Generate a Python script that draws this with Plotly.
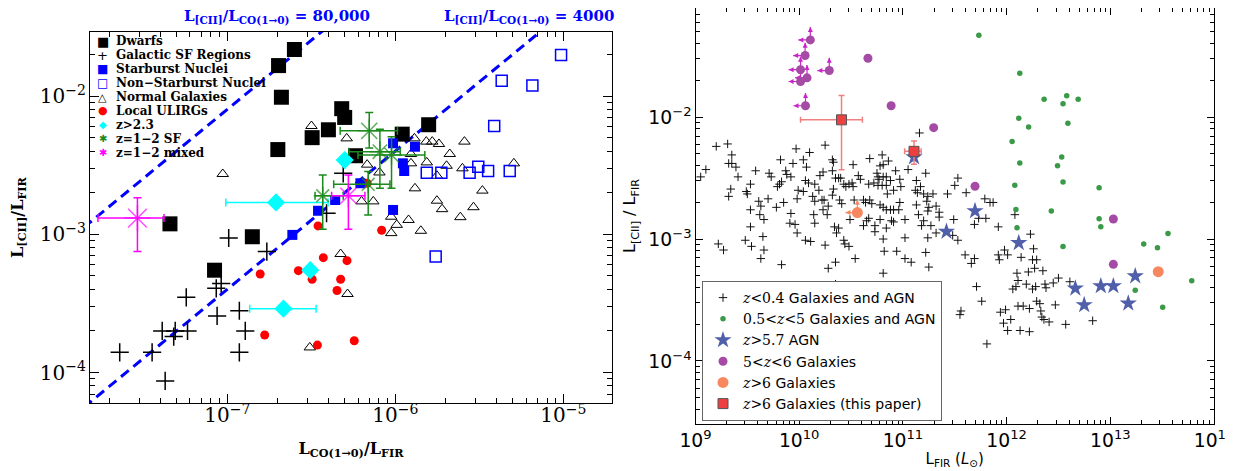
import numpy as np
import plotly.graph_objects as go

# ---------------- left panel: L[CII]/LFIR vs LCO/LFIR ----------------
dwarf_x = [2.51e-7, 2.02e-7, 2.1e-7, 4.8e-7, 5.0e-7, 4.0e-7, 3.2e-7, 2.0e-7, 1.58e-6, 1.1e-6, 5.8e-7, 4.56e-8, 1.41e-7, 8.4e-8]
dwarf_y = [0.0217, 0.0166, 9.8e-3, 8.1e-3, 7.0e-3, 5.7e-3, 5.0e-3, 4.1e-3, 6.2e-3, 5.3e-3, 3.7e-3, 1.19e-3, 9.6e-4, 5.5e-4]

galsf_x = [1.02e-7, 1.72e-7, 9.2e-8, 8.6e-8, 5.7e-8, 8.7e-8, 1.18e-7, 4.1e-8, 4.9e-8, 5.8e-8, 4.8e-8,
           1.28e-7, 2.29e-8, 3.57e-8, 1.18e-7, 4.27e-8, 4.9e-7, 3.9e-7]
galsf_y = [9.4e-4, 7.5e-4, 4.4e-4, 4.07e-4, 3.5e-4, 2.57e-4, 2.8e-4, 2.0e-4, 2.0e-4, 2.0e-4, 1.82e-4,
           2.0e-4, 1.4e-4, 1.4e-4, 1.4e-4, 8.7e-5, 2.76e-3, 1.42e-3]

sbn_x = [2.44e-7, 3.47e-7, 4.39e-7, 6.2e-7, 9.7e-7, 9.7e-7, 1.11e-6, 1.13e-6, 1.31e-6]
sbn_y = [9.9e-4, 1.48e-3, 1.77e-3, 2.34e-3, 1.5e-3, 4.55e-3, 3.26e-3, 2.87e-3, 4.3e-3]

nsbn_x = [9.7e-6, 4.3e-6, 6.55e-6, 3.88e-6, 1.54e-6, 1.88e-6, 2.77e-6, 3.12e-6, 3.57e-6, 4.8e-6, 1.74e-6]
nsbn_y = [0.0198, 0.0129, 0.0119, 6.07e-3, 2.79e-3, 2.79e-3, 2.79e-3, 3.08e-3, 2.87e-3, 2.87e-3, 6.9e-4]

norm_x = [9.4e-8, 3.17e-7, 5.14e-7, 1.30e-6, 1.53e-6, 1.66e-6, 1.82e-6, 2.58e-6, 2.11e-6, 1.54e-6, 1.24e-6,
          1.24e-6, 2.02e-6, 2.51e-6, 1.77e-6, 5.08e-6, 1.31e-6, 3.3e-6, 1.77e-6, 1.9e-6, 2.92e-6, 2.44e-6,
          1.2e-6, 1.02e-6, 9.46e-7, 1.42e-6, 9.46e-7, 7.4e-7, 6.3e-7, 8.05e-7, 6.8e-7, 4.73e-7, 5.2e-7, 3.1e-7]
norm_y = [2.73e-3, 6.07e-3, 4.94e-3, 4.94e-3, 4.68e-3, 4.68e-3, 4.5e-3, 4.68e-3, 3.81e-3, 3.31e-3, 3.81e-3,
          3.26e-3, 3.13e-3, 3.0e-3, 2.65e-3, 3.26e-3, 2.15e-3, 2.07e-3, 1.75e-3, 1.52e-3, 1.57e-3, 1.33e-3,
          1.27e-3, 1.17e-3, 1.34e-3, 1.06e-3, 1.02e-3, 1.73e-3, 1.73e-3, 2.8e-3, 3.19e-3, 7.2e-4, 3.7e-4, 1.52e-4]

ulirg_x = [3.47e-7, 8.3e-7, 6.8e-7, 1.57e-7, 2.65e-7, 3.2e-7, 3.73e-7, 5.16e-7, 4.73e-7, 4.5e-7, 1.67e-7, 3.44e-7, 5.7e-7]
ulirg_y = [1.15e-3, 1.07e-3, 2.34e-3, 5.16e-4, 5.46e-4, 4.73e-4, 6.78e-4, 6.45e-4, 4.73e-4, 3.92e-4, 1.87e-4, 1.58e-4, 1.7e-4]

hiz_x = [5.0e-7, 1.95e-7, 3.12e-7, 2.16e-7]
hiz_y = [3.44e-3, 1.7e-3, 5.5e-4, 2.9e-4]
hiz_xlo = [None, 9.8e-8, None, 1.36e-7]
hiz_xhi = [None, 3.98e-7, None, 3.38e-7]

sf_x = [7.0e-7, 8.1e-7, 9.5e-7, 6.9e-7, 3.7e-7]
sf_y = [5.6e-3, 3.96e-3, 3.75e-3, 2.3e-3, 1.9e-3]
sf_xlo = [4.7e-7, 5.3e-7, 6.0e-7, 4.3e-7, 3.33e-7]
sf_xhi = [1.03e-6, 1.07e-6, 1.5e-6, 9.3e-7, 4.9e-7]
sf_ylo = [4.2e-3, 2.15e-3, 2.15e-3, 1.38e-3, 1.09e-3]
sf_yhi = [7.6e-3, 5.74e-3, 5.08e-3, 2.84e-3, 2.69e-3]

mix_x = [2.92e-8, 5.26e-7]
mix_y = [1.31e-3, 1.9e-3]
mix_xlo = [1.7e-8, 4.18e-7]
mix_xhi = [4.2e-8, 6.6e-7]
mix_ylo = [7.5e-4, 1.09e-3]
mix_yhi = [1.84e-3, 2.69e-3]

ratio_lines = [80000, 4000]
ratio_labels = ["80,000", "4000"]

# ---------------- right panel: L[CII]/LFIR vs LFIR (log10 values) ----------------
z04_log_lfir = [
    9.20, 9.31, 9.35, 9.32, 9.35, 9.39, 9.10, 9.05, 9.41, 9.58, 9.53, 9.34, 9.32, 9.49, 9.50, 9.61,
    9.63, 9.53, 9.62, 9.66, 9.53, 9.70, 9.73, 9.71, 9.79, 9.81, 9.83, 9.78, 9.85, 9.87, 9.88, 9.92,
    9.82, 9.94, 9.97, 10.10, 10.04, 10.07, 10.06, 10.09, 9.99, 10.04, 9.98, 9.92, 9.91, 9.96, 10.14,
    10.15, 10.25, 10.23, 10.20, 10.15, 10.19, 10.13, 10.15, 10.22, 10.24, 10.23, 10.27, 10.28, 10.32,
    10.33, 10.32, 10.35, 10.38, 10.40, 10.33, 10.32, 10.39, 10.41, 10.43, 10.48, 10.51, 10.45, 10.52,
    10.57, 10.59, 10.52, 10.53, 10.34, 10.38, 10.49, 10.62, 10.64, 10.68, 10.68, 10.67, 10.72, 10.80,
    10.78, 10.81, 10.86, 10.93, 10.75, 10.76, 10.77, 10.81, 10.84, 10.88, 10.97, 10.76, 10.80, 10.84,
    10.91, 10.98, 10.85, 10.78, 10.81, 10.84, 10.88, 10.91, 10.96, 10.97, 10.70, 10.65, 10.67, 10.62,
    10.73, 10.78, 10.84, 10.89, 10.91, 11.02,
    11.16, 11.05, 11.22, 11.13, 11.17, 11.12, 11.14, 11.20, 11.24, 11.29, 11.23, 11.13, 11.25, 11.24,
    11.32, 11.35, 11.35, 11.15, 11.20, 11.18, 11.27, 11.43, 11.50, 11.53, 11.61, 11.49, 11.79, 11.84,
    11.87, 11.73, 11.80, 11.69, 11.92, 12.08,
    9.22, 9.27, 9.48, 9.54, 9.65, 9.66, 9.63, 9.83, 9.98, 10.06, 10.11, 10.25, 10.36, 10.43, 10.44,
    10.48, 10.28, 10.35, 10.54, 10.73, 10.81, 10.82, 10.94, 11.02, 11.02, 10.81, 10.35,
    11.24, 11.32, 11.48, 11.53, 11.22, 11.08, 11.25, 11.60, 11.69, 11.66, 11.71, 11.76, 11.56, 11.55,
    11.81, 12.23, 11.92, 11.93, 11.98, 12.01, 12.14, 12.26, 12.25, 12.29, 12.27, 12.35, 12.10, 12.21,
    12.11, 12.19, 12.09, 12.06, 12.28, 12.25, 12.37, 12.38, 12.45, 12.50, 12.61, 12.29, 12.32, 12.47,
    12.11, 12.16, 12.22, 11.94, 11.99, 12.33, 12.34, 12.36, 12.41, 11.97, 12.04, 12.01, 12.13, 12.22,
    12.57, 12.83,
]
z04_log_ratio = [
    -2.24, -2.22, -2.31, -2.38, -2.38, -2.41, -2.43, -2.49, -2.49, -2.44, -2.55, -2.59, -2.65, -2.61,
    -2.63, -2.69, -2.73, -2.76, -2.80, -2.84, -2.90, -2.67, -2.49, -2.46, -2.57, -2.55, -2.53, -2.74,
    -2.70, -2.44, -2.47, -2.49, -2.35, -2.38, -2.26, -2.29, -2.35, -2.41, -2.52, -2.54, -2.60, -2.61,
    -2.67, -2.79, -2.87, -2.88, -2.80, -2.87, -2.23, -2.45, -2.48, -2.55, -2.60, -2.65, -2.69, -2.68,
    -2.68, -2.76, -2.80, -2.73, -2.35, -2.37, -2.44, -2.50, -2.50, -2.50, -2.59, -2.64, -2.68, -2.71,
    -2.55, -2.55, -2.54, -2.57, -2.39, -2.48, -2.51, -2.57, -2.68, -2.90, -2.91, -2.84, -2.68, -2.70,
    -2.68, -2.34, -2.55, -2.54, -2.31, -2.40, -2.39, -2.36, -2.44, -2.46, -2.49, -2.51, -2.49, -2.49,
    -2.52, -2.51, -2.56, -2.56, -2.56, -2.60, -2.57, -2.63, -2.72, -2.74, -2.76, -2.76, -2.76, -2.76,
    -2.70, -2.71, -2.85, -2.83, -2.89, -2.89, -2.84, -2.91, -2.85, -2.86, -2.84,
    -2.13, -2.43, -2.46, -2.52, -2.57, -2.60, -2.62, -2.63, -2.65, -2.63, -2.69, -2.72, -2.74, -2.77,
    -2.73, -2.78, -2.82, -2.80, -2.85, -2.89, -2.89, -2.63, -2.56, -2.50, -2.62, -2.84, -2.67, -2.70,
    -2.70, -2.83, -2.83, -2.88, -2.90, -2.80,
    -3.04, -3.09, -3.01, -3.06, -2.98, -3.09, -3.16, -3.21, -2.95, -3.01, -3.02, -3.05, -2.95, -3.01,
    -3.04, -3.06, -3.24, -3.19, -3.16, -2.94, -3.00, -3.10, -3.10, -2.99, -3.16, -3.28, -3.37,
    -2.99, -2.95, -2.97, -3.01, -3.11, -3.19, -3.23, -3.13, -3.16, -3.20, -3.39, -3.51, -3.59, -3.62,
    -3.86, -2.96, -3.13, -3.17, -3.09, -3.13, -3.15, -3.08, -3.17, -3.17, -3.24, -3.26, -3.28, -3.27,
    -3.34, -3.37, -3.39, -3.41, -3.39, -3.41, -3.37, -3.40, -3.36, -3.32, -3.35, -3.51, -3.53, -3.54,
    -3.55, -3.55, -3.57, -3.60, -3.58, -3.59, -3.64, -3.66, -3.68, -3.69, -3.66, -3.75, -3.75, -3.76,
    -3.70, -3.67,
]

mid_x = [5.4e11, 1.34e12, 2.3e12, 3.8e12, 3.5e12, 4.9e12, 1.31e12, 1.63e12, 3.9e12, 1.13e12, 3.4e12,
         1.34e12, 3.1e12, 3.5e12, 1.2e12, 7.8e12, 1.23e12, 2.7e12, 7.8e12, 1.26e12, 8.1e12, 3.6e13,
         3.5e12, 2.1e13, 2.85e13, 2.95e13, 6.1e13, 1.74e13, 3.2e13]
mid_y = [0.047, 0.0229, 0.014, 0.015, 0.0129, 0.014, 9.8e-3, 8.3e-3, 8.9e-3, 6.3e-3, 4.7e-3,
         4.2e-3, 4.0e-3, 2.94e-3, 2.76e-3, 2.64e-3, 1.75e-3, 1.70e-3, 1.47e-3, 1.24e-3, 1.26e-3, 1.11e-3,
         8.7e-4, 9.1e-4, 8.5e-4, 5.3e-4, 4.55e-4, 3.8e-4, 2.76e-4]

agn_x = [1.28e11, 4.96e11, 2.63e11, 1.31e12, 4.6e12, 5.6e12, 8.1e12, 1.07e13, 1.74e13, 1.49e13]
agn_y = [4.7e-3, 1.7e-3, 1.15e-3, 9.3e-4, 3.94e-4, 2.88e-4, 4.12e-4, 4.12e-4, 4.97e-4, 2.97e-4]

z56_x = [1.28e10, 1.14e10, 1.03e10, 1.19e10, 1.03e10, 1.95e10, 1.15e10, 4.6e10, 7.7e10, 1.98e11, 4.96e11, 1.07e13, 1.07e13]
z56_y = [0.043, 0.032, 0.0245, 0.021, 0.0196, 0.0241, 0.0124, 0.0304, 0.0124, 8.2e-3, 2.71e-3, 1.46e-3, 6.2e-4]
z56_limit = [True, True, True, True, True, True, True, False, False, False, False, False, False]

z6_x = [3.64e10, 2.9e13]
z6_y = [1.65e-3, 5.4e-4]
z6_limit = [True, False]

paper_x = [2.56e10, 1.28e11]
paper_y = [9.5e-3, 5.24e-3]
paper_xlo = [1.03e10, 1.04e11]
paper_xhi = [4.07e10, 1.5e11]
paper_ylo = [3.7e-3, 4.1e-3]
paper_yhi = [0.01503, 6.37e-3]

ARROW_DEX_X = 0.115  # length of the limit arrows, in dex
ARROW_DEX_Y = 0.105

# layout helpers: page pixel -> paper fraction (the page body adds an 8px margin)
W, H, OFF = 1233, 471, 8


def px(v):
    return (v - OFF) / W


def py(v):
    return min(1.0, 1 - (v - OFF) / H)


def err_arrays(vals, lo, hi):
    plus = [h - v if h is not None else None for v, h in zip(vals, hi)]
    minus = [v - l if l is not None else None for v, l in zip(vals, lo)]
    return plus, minus


fig = go.Figure()

# ratio lines
line_x = [1e-8, 3e-5]
for r in ratio_lines:
    fig.add_trace(go.Scatter(x=line_x, y=[r * v for v in line_x], mode="lines",
                             line=dict(color="#0000ff", width=3, dash="10px,6px"),
                             showlegend=False, xaxis="x", yaxis="y", hoverinfo="skip"))

fig.add_trace(go.Scatter(x=norm_x, y=norm_y, mode="markers", showlegend=False,
                         marker=dict(symbol="triangle-up-open", size=10, color="black", line=dict(width=1))))
fig.add_trace(go.Scatter(x=nsbn_x, y=nsbn_y, mode="markers", showlegend=False,
                         marker=dict(symbol="square-open", size=11, color="#0000ff", line=dict(width=1.5))))
fig.add_trace(go.Scatter(x=ulirg_x, y=ulirg_y, mode="markers", showlegend=False,
                         marker=dict(symbol="circle", size=9, color="#ff0000")))
fig.add_trace(go.Scatter(x=dwarf_x, y=dwarf_y, mode="markers", showlegend=False,
                         marker=dict(symbol="square", size=15, color="black")))
fig.add_trace(go.Scatter(x=galsf_x, y=galsf_y, mode="markers", showlegend=False,
                         marker=dict(symbol="cross-thin", size=13, color="black",
                                     line=dict(width=1.5, color="black"))))
fig.add_trace(go.Scatter(x=sbn_x, y=sbn_y, mode="markers", showlegend=False,
                         marker=dict(symbol="square", size=10, color="#0000ff")))

p, m = err_arrays(hiz_x, hiz_xlo, hiz_xhi)
fig.add_trace(go.Scatter(x=hiz_x, y=hiz_y, mode="markers", showlegend=False,
                         error_x=dict(type="data", symmetric=False, array=p, arrayminus=m,
                                      color="#00ffff", thickness=1.5, width=4),
                         marker=dict(symbol="diamond", size=14, color="#00ffff")))

px_, mx_ = err_arrays(sf_x, sf_xlo, sf_xhi)
py_, my_ = err_arrays(sf_y, sf_ylo, sf_yhi)
fig.add_trace(go.Scatter(x=sf_x, y=sf_y, mode="markers", showlegend=False,
                         error_x=dict(type="data", symmetric=False, array=px_, arrayminus=mx_,
                                      color="#1a8a1a", thickness=1.5, width=4),
                         error_y=dict(type="data", symmetric=False, array=py_, arrayminus=my_,
                                      color="#1a8a1a", thickness=1.5, width=4),
                         marker=dict(symbol="asterisk-open", size=[19, 17, 17, 15, 15], color="#1a8a1a",
                                     line=dict(width=1.5, color="#1a8a1a"))))

px_, mx_ = err_arrays(mix_x, mix_xlo, mix_xhi)
py_, my_ = err_arrays(mix_y, mix_ylo, mix_yhi)
fig.add_trace(go.Scatter(x=mix_x, y=mix_y, mode="markers", showlegend=False,
                         error_x=dict(type="data", symmetric=False, array=px_, arrayminus=mx_,
                                      color="#ff00ff", thickness=1.5, width=4),
                         error_y=dict(type="data", symmetric=False, array=py_, arrayminus=my_,
                                      color="#ff00ff", thickness=1.5, width=4),
                         marker=dict(symbol="asterisk-open", size=[22, 19], color="#ff00ff",
                                     line=dict(width=1.5, color="#ff00ff"))))

# ---------------- right panel traces ----------------
R = dict(xaxis="x2", yaxis="y2", legend="legend2")


def add_limits(xs, ys, flags, col):
    # upper limit in LFIR (left arrow), lower limit in ratio (up arrow)
    fx, fy = 10 ** -ARROW_DEX_X, 10 ** ARROW_DEX_Y
    lx = [x for x, f in zip(xs, flags) if f]
    ly = [y for y, f in zip(ys, flags) if f]
    fig.add_trace(go.Scatter(x=lx, y=ly, mode="markers", showlegend=False, hoverinfo="skip",
                             marker=dict(size=1, color="rgba(0,0,0,0)"),
                             error_x=dict(type="data", symmetric=False, array=[0] * len(lx),
                                          arrayminus=[x * (1 - fx) for x in lx], color=col,
                                          thickness=1.2, width=0),
                             error_y=dict(type="data", symmetric=False, array=[y * (fy - 1) for y in ly],
                                          arrayminus=[0] * len(ly), color=col, thickness=1.2, width=0),
                             xaxis="x2", yaxis="y2"))
    fig.add_trace(go.Scatter(x=[x * fx for x in lx], y=ly, mode="markers", showlegend=False,
                             hoverinfo="skip", marker=dict(symbol="arrow-left", size=5, color=col),
                             xaxis="x2", yaxis="y2"))
    fig.add_trace(go.Scatter(x=lx, y=[y * fy for y in ly], mode="markers", showlegend=False,
                             hoverinfo="skip", marker=dict(symbol="arrow-up", size=5, color=col),
                             xaxis="x2", yaxis="y2"))


math = '<span style="font-family:DejaVu Serif"><i>z</i>'
fig.add_trace(go.Scatter(x=10 ** np.array(z04_log_lfir), y=10 ** np.array(z04_log_ratio), mode="markers",
                         name=math + "&lt;0.4</span> Galaxies and AGN",
                         marker=dict(symbol="cross-thin", size=6, color="black",
                                     line=dict(width=1, color="#111111")), **R))
fig.add_trace(go.Scatter(x=mid_x, y=mid_y, mode="markers",
                         name='<span style="font-family:DejaVu Serif">0.5&lt;<i>z</i>&lt;5</span> Galaxies and AGN',
                         marker=dict(symbol="circle", size=5.5, color="#3a9a48"), **R))
fig.add_trace(go.Scatter(x=agn_x, y=agn_y, mode="markers", name=math + "&gt;5.7</span> AGN",
                         marker=dict(symbol="star", size=13, color="#4f5faa"), **R))
add_limits(z56_x, z56_y, z56_limit, "#cc22cc")
fig.add_trace(go.Scatter(x=z56_x, y=z56_y, mode="markers",
                         name='<span style="font-family:DejaVu Serif">5&lt;<i>z</i>&lt;6</span> Galaxies',
                         marker=dict(symbol="circle", size=9, color="#a54ba5"), **R))
add_limits(z6_x, z6_y, z6_limit, "#f7875f")
fig.add_trace(go.Scatter(x=z6_x, y=z6_y, mode="markers", name=math + "&gt;6</span> Galaxies",
                         marker=dict(symbol="circle", size=11, color="#f7875f"), **R))
px_, mx_ = err_arrays(paper_x, paper_xlo, paper_xhi)
py_, my_ = err_arrays(paper_y, paper_ylo, paper_yhi)
fig.add_trace(go.Scatter(x=paper_x, y=paper_y, mode="markers", name=math + "&gt;6</span> Galaxies (this paper)",
                         error_x=dict(type="data", symmetric=False, array=px_, arrayminus=mx_,
                                      color="#f08080", thickness=1.5, width=3),
                         error_y=dict(type="data", symmetric=False, array=py_, arrayminus=my_,
                                      color="#f08080", thickness=1.5, width=3),
                         marker=dict(symbol="square", size=10, color="#ee4040",
                                     line=dict(width=1, color="#555555")), **R))

annotations = []
# ratio labels above left panel
for lab, xc in zip(ratio_labels, [277, 529]):
    annotations.append(dict(x=px(xc), y=py(17), xref="paper", yref="paper", showarrow=False,
                            xanchor="center", yanchor="middle",
                            text="<b>L<sub>[CII]</sub>/L<sub>CO(1→0)</sub> = " + lab + "</b>",
                            font=dict(family="DejaVu Serif", size=15, color="#0000ff")))

# left legend, drawn as text rows
leg_names = ["Dwarfs", "Galactic SF Regions", "Starburst Nuclei", "Non−Starburst Nuclei", "Normal Galaxies",
             "Local ULIRGs", "z>2.3", "z=1−2 SF", "z=1−2 mixed"]
leg_glyphs = ["■", "+", "■", "□", "△", "●", "◆", "✱", "✱"]
leg_colors = ["black", "black", "#0000ff", "#0000ff", "black", "#ff0000", "#00ffff", "#1a8a1a", "#ff00ff"]
leg_sizes = [13, 13, 12, 12, 11, 11, 10, 10, 10]
for i, (nm, gl, cl, sz) in enumerate(zip(leg_names, leg_glyphs, leg_colors, leg_sizes)):
    yp = py(41.5 + i * 13.9)
    annotations.append(dict(x=px(103), y=yp, xref="paper", yref="paper", showarrow=False,
                            xanchor="center", yanchor="middle",
                            text=gl, font=dict(family="DejaVu Sans", size=sz, color=cl)))
    annotations.append(dict(x=px(114), y=yp, xref="paper", yref="paper", showarrow=False,
                            xanchor="left", yanchor="middle", text="<b>" + nm + "</b>",
                            font=dict(family="DejaVu Serif", size=12, color="black")))

left_axis = dict(type="log", showline=True, linecolor="black", linewidth=1, mirror="allticks",
                 ticks="inside", ticklen=9, tickcolor="black", dtick=1, exponentformat="power",
                 showgrid=False, zeroline=False, automargin=False,
                 tickfont=dict(family="DejaVu Serif", size=16, color="black"),
                 minor=dict(ticks="inside", ticklen=5, dtick="D1", tickcolor="black", showgrid=False))
right_axis = dict(type="log", showline=True, linecolor="black", linewidth=1, mirror="allticks",
                  ticks="inside", ticklen=7, tickcolor="black", dtick=1, exponentformat="power",
                  showgrid=False, zeroline=False, automargin=False,
                  tickfont=dict(family="DejaVu Sans", size=15, color="black"),
                  minor=dict(ticks="inside", ticklen=4, dtick="D1", tickcolor="black", showgrid=False))

fig.update_layout(
    template="none",
    width=W, height=H, margin=dict(l=0, r=0, t=0, b=0, autoexpand=False),
    paper_bgcolor="white", plot_bgcolor="white",
    xaxis=dict(left_axis, domain=[px(90), px(612)], range=[-7.817, -4.71], anchor="y",
               ticklabelstandoff=-5,
               title=dict(text="<b>L<sub>CO(1→0)</sub>/L<sub>FIR</sub></b>", standoff=16,
                          font=dict(family="DejaVu Serif", size=16, color="black"))),
    yaxis=dict(left_axis, domain=[py(403), py(32)], range=[-4.22, -1.537], anchor="x",
               title=dict(text="<b>L<sub>[CII]</sub>/L<sub>FIR</sub></b>", standoff=14,
                          font=dict(family="DejaVu Serif", size=16, color="black"))),
    xaxis2=dict(right_axis, domain=[px(695.5), px(1214)], range=[9, 14], anchor="y2",
                title=dict(text="L<sub>FIR</sub> (<i>L</i><sub>⊙</sub>)", standoff=3,
                           font=dict(family="DejaVu Sans", size=15, color="black"))),
    yaxis2=dict(right_axis, domain=[py(424), py(7)], range=[-4.517, -1.105], anchor="x2",
                title=dict(text="L<sub>[CII]</sub> / L<sub>FIR</sub>", standoff=8,
                           font=dict(family="DejaVu Sans", size=16, color="black"))),
    showlegend=True,
    legend2=dict(x=px(702), y=py(281), xanchor="left", yanchor="top", bgcolor="white",
                 bordercolor="#666666", borderwidth=1, font=dict(family="DejaVu Sans", size=14, color="black"),
                 itemsizing="trace"),
    annotations=annotations,
)

fig.write_html("out.html")
